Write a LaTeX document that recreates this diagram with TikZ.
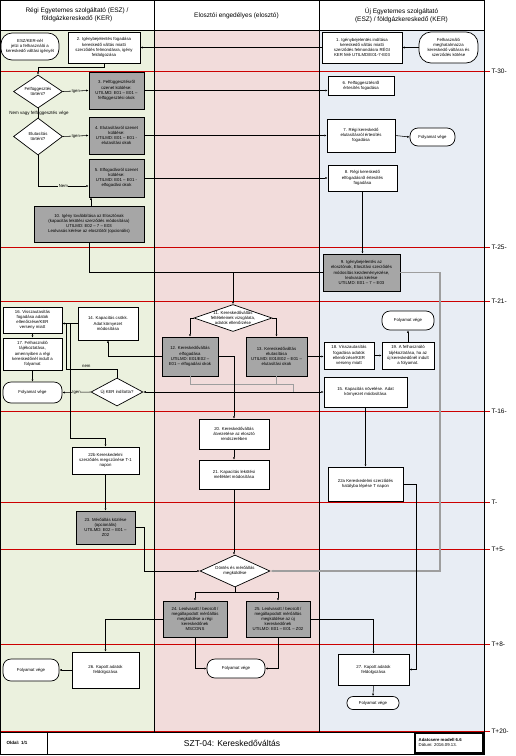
\documentclass[tikz,border=0pt]{standalone}
\usepackage{fontspec}
\setmainfont{Liberation Sans}
\usetikzlibrary{shapes.geometric,arrows.meta,calc}
\definecolor{laneA}{RGB}{235,241,222}
\definecolor{laneB}{RGB}{242,220,219}
\definecolor{laneC}{RGB}{232,237,244}
\definecolor{boxgray}{RGB}{166,166,166}
\definecolor{linegray}{RGB}{158,158,158}
\definecolor{tred}{RGB}{204,0,0}
\tikzset{
  every node/.style={font=\fontsize{4.3}{5.2}\selectfont, inner sep=0.5pt},
  pbox/.style={draw, fill=white, line width=0.7pt, align=center},
  gbox/.style={pbox, fill=boxgray},
  stad/.style={draw, fill=white, line width=0.7pt, rounded corners=8pt, align=center},
  dia/.style={draw, fill=white, line width=0.7pt, shape=diamond, inner sep=0pt},
  dtext/.style={font=\fontsize{4.3}{5.2}\selectfont, align=center, inner sep=0pt},
  ln/.style={line width=0.55pt},
  arr/.style={ln, -{Latex[length=2.4pt,width=2.1pt]}},
  gln/.style={draw=linegray, line width=0.9pt},
  garr/.style={draw=linegray, line width=1.1pt, -{Latex[length=3pt,width=2.6pt]}},
  tline/.style={draw=tred, line width=0.8pt},
  tlab/.style={font=\fontsize{6.5}{7}\selectfont, anchor=west, inner sep=0.3pt},
  hdr/.style={font=\fontsize{6.5}{8}\selectfont, align=center},
  lab/.style={font=\fontsize{4.3}{5}\selectfont, inner sep=0.4pt}
}
\begin{document}
\begin{tikzpicture}[x=1pt,y=-1pt]
\useasboundingbox (0,0) rectangle (516,756);
\fill[white] (0,0) rectangle (516,756);
% lanes
\fill[laneA] (0,30) rectangle (154,732);
\fill[laneB] (154,30) rectangle (319,732);
\fill[laneC] (319,30) rectangle (484,732);
% time lines
\foreach \yy/\tt in {71/T-30-, 247/T-25-, 301/T-21-, 411/T-16-, 502/T-, 549/T+5-, 644/T+8-, 731/T+20-}{
  \draw[tline] (0,\yy) -- (490,\yy);
  \node[tlab] at (491,\yy) {\tt};
}
% frame
\draw[line width=0.9pt] (0.5,0.5) rectangle (484,754);
\draw[line width=0.9pt] (0.5,30) -- (484,30);
\draw[line width=0.9pt] (154,0.5) -- (154,732);
\draw[line width=0.9pt] (319,0.5) -- (319,732);
\draw[line width=0.9pt] (0.5,732) -- (484,732);
\draw[line width=0.9pt] (47,732) -- (47,754);
\draw[line width=1.2pt] (415,733.5) rectangle (483,753);
% headers
\node[hdr] (h1) at (77,15) {Régi Egyetemes szolgáltató (ESZ) /\\földgázkereskedő (KER)};
\node[hdr] (h2) at (236.5,16) {Elosztói engedélyes (elosztó)};
\node[hdr] (h3) at (401.5,15) {Új Egyetemes szolgáltató\\(ESZ) / földgázkereskedő (KER)};
% footer
\node[font=\bfseries\fontsize{4.5}{5}\selectfont] (f1) at (17,743) {Oldal: 1/1};
\node[font=\fontsize{8.5}{9}\selectfont] (f2) at (232,743) {SZT-04: Kereskedőváltás};
\node[font=\fontsize{4.3}{5.6}\selectfont, align=left, anchor=west] (f3) at (418,742.5) {\textbf{Adatcsere modell 6.6}\\Dátum: 2016.09.13.};

% ---- nodes ----
\node[stad, minimum width=58pt, minimum height=27pt, rounded corners=11pt] (s0) at (30,46.5) {ESZ/KER-nél\\jelzi a felhasználó a\\kereskedő váltási igényét};
\node[pbox, minimum width=72pt, minimum height=31pt] (b2) at (104,47.5) {2. Igénybejelentés fogadása\\kereskedő váltás miatti\\szerződés felmondásra, igény\\feldolgozása};
\node[pbox, minimum width=80pt, minimum height=31pt] (b1) at (362,47.5) {1. Igénybejelentés indítása\\kereskedő váltás miatti\\szerződés felmondásra RÉGI\\KER felé UTILMD/E01-7-E03};
\node[stad, minimum width=59pt, minimum height=31pt, rounded corners=12pt] (s1) at (448.5,47.5) {Felhasználó\\meghatalmazza\\kereskedő váltásra és\\szerződés kötése};

\node[dia, minimum width=49pt, minimum height=33pt, label={[dtext]center:Felfüggesztés\\történt?}] (d1) at (38,91.5) {};
\node[gbox, minimum width=55pt, minimum height=37pt] (b3) at (116.5,90.5) {3. Felfüggesztésről\\üzenet küldése:\\UTILMD: E01 – E01 –\\felfüggesztési okok};
\node[pbox, minimum width=66pt, minimum height=19pt] (b6) at (361,85.5) {6. Felfüggesztésről\\értesítés fogadása};

\node[dia, minimum width=49pt, minimum height=37pt, label={[dtext]center:Elutasítás\\történt?}] (d2) at (38,136.5) {};
\node[gbox, minimum width=55pt, minimum height=37pt] (b4) at (116.5,135.5) {4. Elutasításról üzenet\\küldése:\\UTILMD: E01 – E01 -\\elutasítási okok};
\node[pbox, minimum width=68pt, minimum height=33pt] (b7) at (361,135.5) {7. Régi kereskedő\\elutasításról értesítés\\fogadása};
\node[stad, minimum width=45pt, minimum height=18pt] (s2) at (432.5,137) {Folyamat vége};

\node[gbox, minimum width=55pt, minimum height=38pt] (b5) at (116.5,178) {5. Elfogadásról üzenet\\küldése:\\UTILMD: E01 – E01 -\\elfogadási okok};
\node[pbox, minimum width=69pt, minimum height=26pt] (b8) at (362.5,178) {8. Régi kereskedő\\elfogadásról értesítés\\fogadása};

\node[gbox, minimum width=110pt, minimum height=36pt] (b10) at (89,224) {10. Igény továbbítása az Elosztónak\\(kapacitás lekötési szerződés módosítása)\\UTILMD: E02 – 7 – E03\\Leolvasás kérése az elosztótól (opcionális)};
\node[gbox, minimum width=77pt, minimum height=37pt] (b9) at (361.5,272.5) {9. Igénybejelentés az\\elosztónak, Elosztási szerződés\\módosítás kezdeményezése,\\leolvasás kérése\\UTILMD: E01 – 7 – E03};

\node[dia, minimum width=78pt, minimum height=27pt, label={[dtext]center:11. Kereskedőváltás\\feltételeinek vizsgálata,\\adatok ellenőrzése}] (d11) at (233,318) {};
\node[gbox, minimum width=56pt, minimum height=39pt] (b12) at (190,356.5) {12. Kereskedőváltás\\elfogadása\\UTILMD: E01/E02 –\\E01 – elfogadási okok};
\node[gbox, minimum width=61pt, minimum height=39pt] (b13) at (276.5,356.5) {13. Kereskedőváltás\\elutasítása\\UTILMD: E01/E02 – E01 –\\elutasítási okok};
\node[pbox, minimum width=50pt, minimum height=27pt] (b18) at (349,355.5) {18. Visszautasítás\\fogadása adatok\\ellenőrzése/KER\\verseny miatt};
\node[pbox, minimum width=52pt, minimum height=27pt] (b19) at (408,355.5) {19. A felhasználó\\tájékoztatása, ha az\\új kereskedőnél indult\\a folyamat.};
\node[stad, minimum width=52pt, minimum height=19pt] (s3) at (408,320.5) {Folyamat vége};

\node[pbox, minimum width=60pt, minimum height=33pt] (b14) at (108,323.5) {14. Kapacitás csökk.\\Adat környezet\\módosítása};
\node[pbox, minimum width=59pt, minimum height=26pt] (b16) at (32.5,320) {16. Visszautasítás\\fogadása adatok\\ellenőrzése/KER\\verseny miatt};
\node[pbox, minimum width=59pt, minimum height=32pt] (b17) at (32.5,354) {17. Felhasználó\\tájékoztatása,\\amennyiben a régi\\kereskedőnél indult a\\folyamat};
\node[stad, minimum width=59pt, minimum height=21pt] (s4) at (32.5,392.5) {Folyamat vége};
\node[dia, minimum width=52pt, minimum height=28pt, label={[dtext]center:Új KER indította?}] (d3) at (117,392) {};
\node[pbox, minimum width=83pt, minimum height=30pt] (b15) at (365.5,392) {15. Kapacitás növelése. Adat\\környezet módosítása};

\node[pbox, minimum width=70pt, minimum height=30pt] (b20) at (234,434) {20. Kereskedőváltás\\átvezetése az elosztó\\rendszerében};
\node[pbox, minimum width=70pt, minimum height=29pt] (b21) at (234,474.5) {21. Kapacitás lekötési\\melléklet módosítása};
\node[pbox, minimum width=75pt, minimum height=34pt] (b22a) at (365.5,484) {22a Kereskedelmi szerződés\\hatályba lépése T napon};
\node[pbox, minimum width=67pt, minimum height=27pt] (b22b) at (105.5,460.5) {22b Kereskedelmi\\szerződés megszűnése T-1\\napon};
\node[gbox, minimum width=59pt, minimum height=33pt] (b23) at (105.5,527.5) {23. Mérőállás közlése\\(opcionális)\\UTILMD: E02 – E01 –\\Z02};

\node[dia, minimum width=70pt, minimum height=32pt, label={[dtext]center:Döntés és mérőállás\\megküldése}] (d4) at (235,571) {};
\node[gbox, minimum width=64pt, minimum height=36pt] (b24) at (195,619) {24. Leolvasott / becsült /\\megállapodott mérőállás\\megküldése a régi\\kereskedőnek\\MSCONS};
\node[gbox, minimum width=64pt, minimum height=36pt] (b25) at (278,619) {25. Leolvasott / becsült /\\megállapodott mérőállás\\megküldése az új\\kereskedőnek\\UTILMD: E01 – E01 – Z02};
\node[stad, minimum width=58pt, minimum height=19pt] (s5) at (236,668.5) {Folyamat vége};
\node[pbox, minimum width=67pt, minimum height=36pt] (b26) at (105.5,670) {26. Kapott adatok\\feldolgozása};
\node[stad, minimum width=56pt, minimum height=22pt] (s6) at (31,670) {Folyamat vége};
\node[pbox, minimum width=71pt, minimum height=31pt] (b27) at (373.5,669.5) {27. Kapott adatok\\feldolgozása};
\node[stad, minimum width=52pt, minimum height=13pt, rounded corners=6pt] (s7) at (373,703) {Folyamat vége};

% ---- connectors ----
\draw[arr] (b1.west) -- (b2.east);
\draw[arr] (s1.west) -- (b1.east);
\draw[arr] (b2.south) -- ++(0,4) -| (d1.north);
\draw[arr] (d1.east) -- node[lab, fill=laneA] {Igen} (b3.west);
\draw[arr] (b3.east) -- (b3.east -| b6.west);
\draw[ln] (d1.south) -- (d2.north);
\node[lab, font=\fontsize{4.5}{5}\selectfont] (nv) at (39,113) {Nem vagy felfüggesztés vége};
\draw[arr] (d2.east) -- node[lab, fill=laneA] {Igen} (b4.west);
\draw[arr] (b4.east) -- (b4.east -| b7.west);
\draw[arr] (b7.east) -- (s2.west);
\draw[arr] (d2.south) |- node[lab, fill=laneA, pos=0.75] {Nem} ([yshift=-8pt]b5.west);
\draw[arr] (b5.east) -- (b5.east -| b8.west);
\draw[arr] (b8.south) -- (b8.south |- b9.north);
\draw[arr] ([xshift=2pt]b10.north) -- ([xshift=2pt]b10.north |- b5.south);
\draw[arr] (b10.south) |- (d11.north |- b9.west) -- (d11.north);
\draw[ln] (b9.west) -- (d11.north |- b9.west);
\coordinate (g1) at (440,272.5);
\draw[garr] (b9.east) -- (g1) |- (d4.east);
\draw[arr] (d11.west) -| (b12.north);
\draw[arr] (d11.east) -| (b13.north);
\draw[arr] (b13.east) -- (b13.east -| b18.west);
\draw[arr] (b18.east) -- (b18.east -| b19.west);
\draw[arr] (b19.north) -- (s3.south);
\draw[arr] (b12.west) -| (b14.south);
% grey optional paths
\coordinate (g3) at (293,384);
\draw[gln] (b12.south) |- (g3) -- (g3 |- b15.west);
\draw[gln] (b13.south) -- (b13.south |- g3);
% acceptance paths
\draw[arr] (b12.east) -| (b20.north);
\coordinate (j1) at (b20.north |- d3.east);
\draw[arr] (j1) -- (d3.east);
\draw[arr] (j1) -- (b15.west);
\draw[arr] (d3.west) -- node[lab, fill=laneA] {Igen} (s4.east);
\coordinate (n1) at (66,369);
\draw[ln] (d3.north) |- node[lab, pos=0.8, above=0.3pt] {nem} (n1) -- (n1 |- b14.west);
\draw[arr] (b14.west) -- (b14.west -| b16.east);
\coordinate (n2) at (70,438);
\draw[arr] (n2 |- b14.west) -- (n2) -| (b22b.north);
\draw[arr] (b16.south) -- (b17.north);
\draw[arr] (b17.south) -- (s4.north);
\draw[arr] (b15.south) -- (b15.south |- b22a.north);
\draw[arr] (b20.south) -- (b21.north);
\draw[arr] (b21.south) -- (b21.south |- d4.north);
\coordinate (r1) at (416,484);
\draw[arr] (b22a.east) -- (r1) |- (b27.east);
\draw[arr] (b22b.south) -- (b23.north);
\draw[arr] (b23.east) -- ++(9,0) |- (d4.west);
\coordinate (k1) at ($(d4.south)+(0,5)$);
\draw[ln] (d4.south) -- (k1);
\draw[arr] (k1) -| (b24.north);
\draw[arr] (k1) -| (b25.north);
\draw[arr] (b24.south) |- (s5.west);
\draw[arr] (b25.south) |- (s5.east);
\draw[arr] (b24.west) -| (b26.north);
\draw[arr] (b26.west) -- (s6.east);
\draw[arr] (b25.east) -| (b27.north);
\draw[arr] (b27.south) -- (s7.north);
\end{tikzpicture}
\end{document}
